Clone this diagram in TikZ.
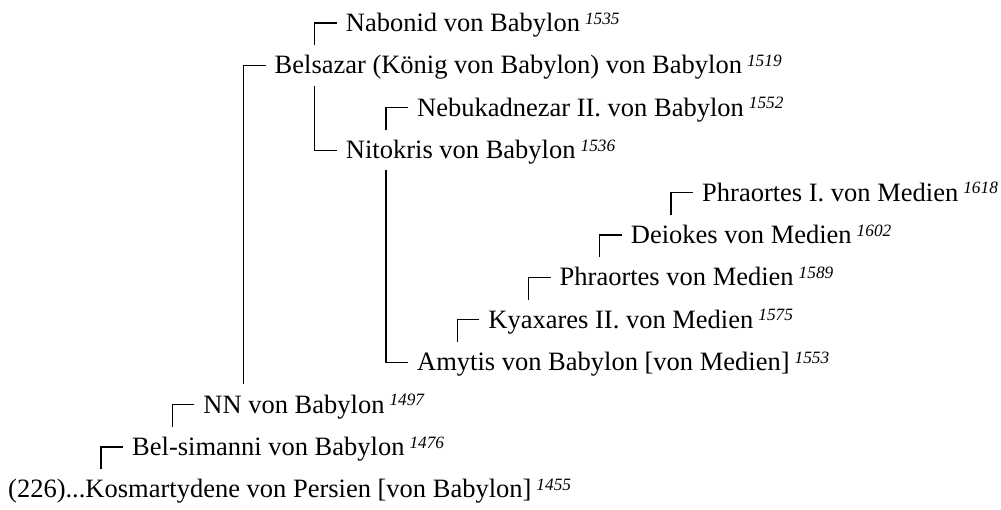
\documentclass[tikz,border=0pt]{standalone}
\usepackage{fontspec}
\setmainfont{Liberation Serif}

\newcommand{\yr}[1]{\kern5pt\raisebox{7.5pt}{\fontsize{17.3}{18}\selectfont\itshape #1}}

\begin{document}
\begin{tikzpicture}[x=71.25pt, y=-42.4pt,
  person/.style={anchor=west, inner xsep=9pt, inner ysep=5.5pt, text height=23pt, text depth=6pt, font=\fontsize{26.5}{30}\selectfont},
  link/.style={line width=1.2pt}
]
\useasboundingbox (-51.75pt,23pt) rectangle (949.25pt,-486pt);

\node[person] (nabonid) at (4,0) {Nabonid von Babylon\yr{1535}};
\node[person] (belsazar) at (3,1) {Belsazar (König von Babylon) von Babylon\yr{1519}};
\node[person] (nebukad) at (5,2) {Nebukadnezar II. von Babylon\yr{1552}};
\node[person] (nitokris) at (4,3) {Nitokris von Babylon\yr{1536}};
\node[person] (phraortesI) at (9,4) {Phraortes I. von Medien\yr{1618}};
\node[person] (deiokes) at (8,5) {Deiokes von Medien\yr{1602}};
\node[person] (phraortes) at (7,6) {Phraortes von Medien\yr{1589}};
\node[person] (kyaxares) at (6,7) {Kyaxares II. von Medien\yr{1575}};
\node[person] (amytis) at (5,8) {Amytis von Babylon [von Medien]\yr{1553}};
\node[person] (nn) at (2,9) {NN von Babylon\yr{1497}};
\node[person] (belsimanni) at (1,10) {Bel-simanni von Babylon\yr{1476}};
\node[person] (kosm) at (-0.74,11) {(226)...Kosmartydene von Persien [von Babylon]\yr{1455}};

\draw[link] (nabonid.west) -- ++(-22pt,0pt) coordinate (v1) -- (v1 |- belsazar.north);
\draw[link] (nitokris.west) -- ++(-22pt,0pt) coordinate (v2) -- (v2 |- belsazar.south);
\draw[link] (nebukad.west) -- ++(-22pt,0pt) coordinate (v3) -- (v3 |- nitokris.north);
\draw[link] (amytis.west) -- ++(-22pt,0pt) coordinate (v4) -- (v4 |- nitokris.south);
\draw[link] (phraortesI.west) -- ++(-22pt,0pt) coordinate (v5) -- (v5 |- deiokes.north);
\draw[link] (deiokes.west) -- ++(-22pt,0pt) coordinate (v6) -- (v6 |- phraortes.north);
\draw[link] (phraortes.west) -- ++(-22pt,0pt) coordinate (v7) -- (v7 |- kyaxares.north);
\draw[link] (kyaxares.west) -- ++(-22pt,0pt) coordinate (v8) -- (v8 |- amytis.north);
\draw[link] (belsazar.west) -- ++(-22pt,0pt) coordinate (v9) -- (v9 |- nn.north);
\draw[link] (nn.west) -- ++(-22pt,0pt) coordinate (v10) -- (v10 |- belsimanni.north);
\draw[link] (belsimanni.west) -- ++(-22pt,0pt) coordinate (v11) -- (v11 |- kosm.north);

\end{tikzpicture}
\end{document}
